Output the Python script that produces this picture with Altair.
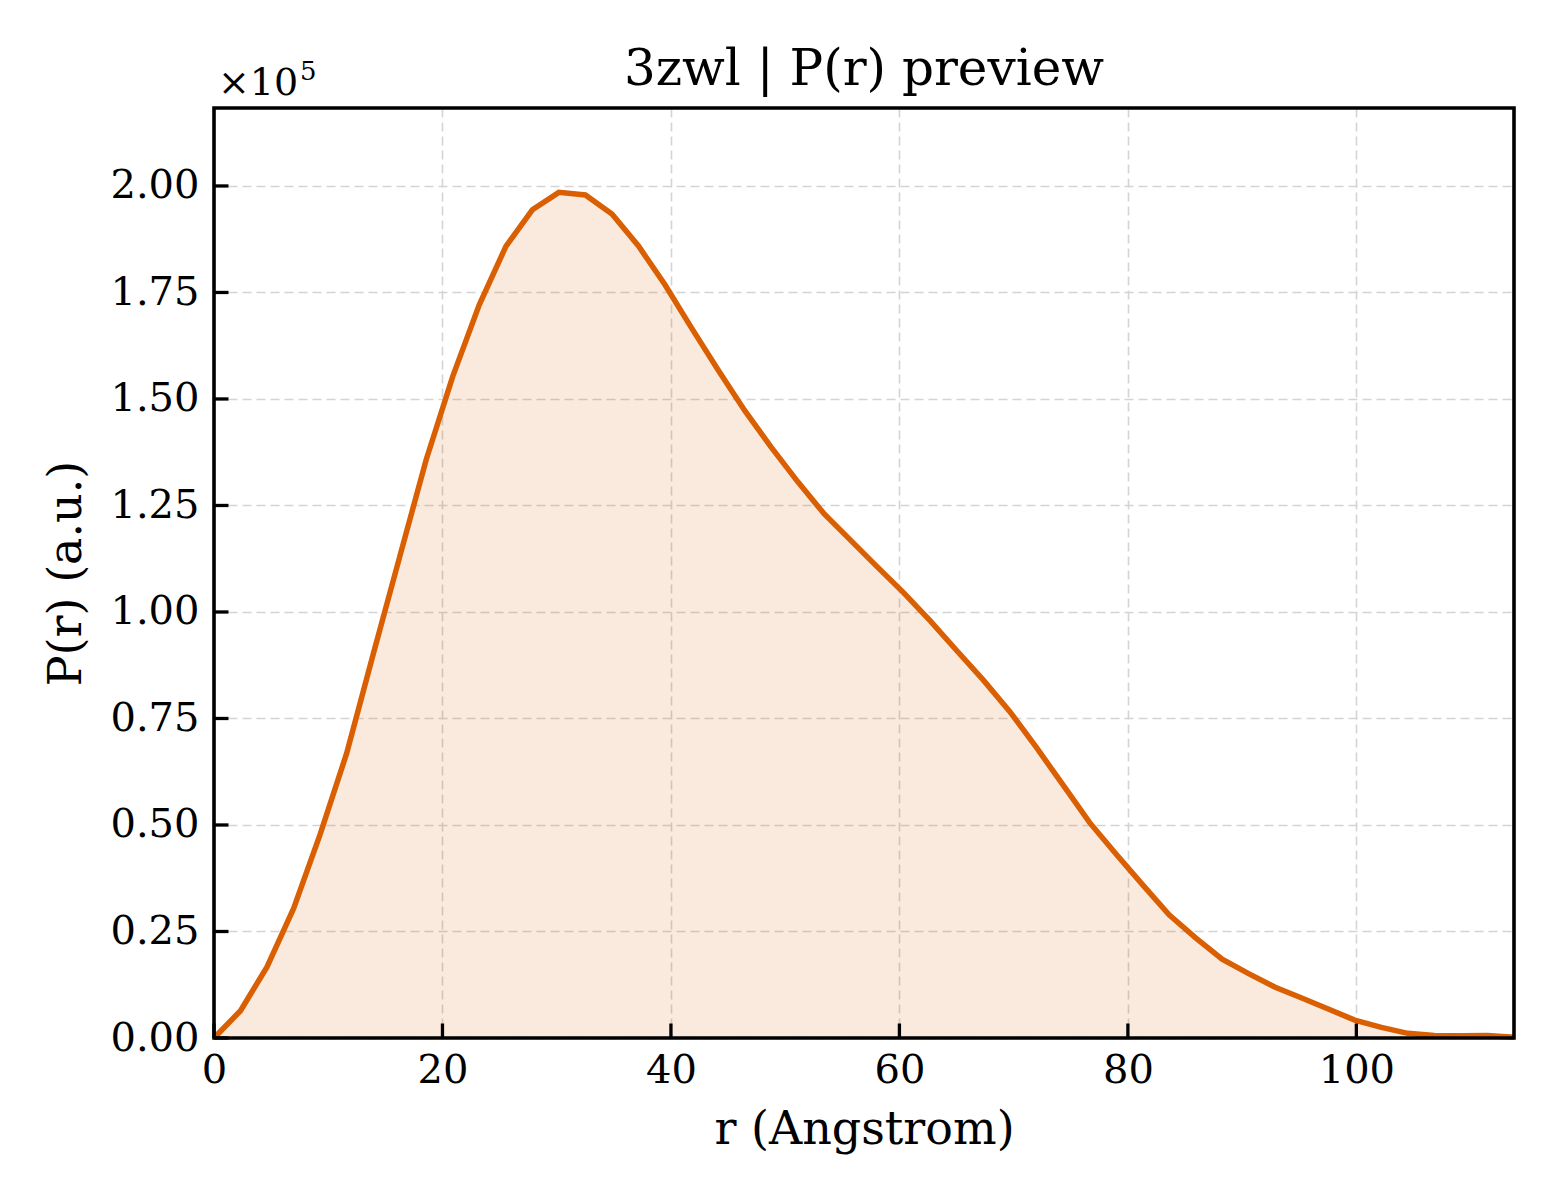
import altair as alt
import pandas as pd

# r values (Angstrom)
r_values = [0.00, 2.32, 4.64, 6.97, 9.29, 11.61, 13.93, 16.26, 18.58, 20.90,
            23.22, 25.55, 27.87, 30.19, 32.51, 34.84, 37.16, 39.48, 41.80, 44.13,
            46.45, 48.77, 51.09, 53.42, 55.74, 58.06, 60.38, 62.70, 65.03, 67.35,
            69.67, 71.99, 74.32, 76.64, 78.96, 81.28, 83.61, 85.93, 88.25, 90.57,
            92.90, 95.22, 97.54, 99.86, 102.19, 104.51, 106.83, 109.15, 111.48, 113.80]
# P(r) in units of 1e5
p_values = [0.000, 0.064, 0.167, 0.304, 0.478, 0.668, 0.900, 1.130, 1.358, 1.553,
            1.721, 1.858, 1.944, 1.985, 1.979, 1.934, 1.859, 1.768, 1.667, 1.568,
            1.473, 1.387, 1.306, 1.230, 1.168, 1.106, 1.045, 0.979, 0.909, 0.840,
            0.766, 0.682, 0.594, 0.506, 0.432, 0.360, 0.289, 0.235, 0.185, 0.151,
            0.119, 0.094, 0.068, 0.042, 0.025, 0.011, 0.006, 0.005, 0.006, 0.002]

x_ticks = [0, 20, 40, 60, 80, 100]
y_ticks = [0.0, 0.25, 0.5, 0.75, 1.0, 1.25, 1.5, 1.75, 2.0]

title_text = "3zwl | P(r) preview"
x_title = "r (Angstrom)"
y_title = "P(r) (a.u.)"
offset_text = "×10"
offset_exp = "5"

df = pd.DataFrame({"r": r_values, "p": p_values})
xt = pd.DataFrame({"xv": x_ticks})
yt = pd.DataFrame({"yv": y_ticks})

FONT = "DejaVu Serif"
COLOR = "#d95f02"
W, H = 1300, 930
TICK = 14.5
xdom = [0, 113.8]
ydom = [0, 2.183]

xscale = alt.Scale(domain=xdom, nice=False, zero=False)
yscale = alt.Scale(domain=ydom, nice=False)

area = alt.Chart(df).mark_area(color=COLOR, opacity=0.13).encode(
    x=alt.X("r:Q", scale=xscale, title=x_title,
            axis=alt.Axis(values=x_ticks, ticks=False, domain=False, labelPadding=12,
                          labelFontSize=40, labelFont=FONT, labelColor="black",
                          titleFont=FONT, titleFontSize=46, titleFontWeight="normal",
                          titleColor="black", titlePadding=17,
                          grid=True, gridColor="#d4d4d4", gridDash=[9, 5], gridWidth=1.6,
                          labelFlush=False)),
    y=alt.Y("p:Q", scale=yscale, title=y_title,
            axis=alt.Axis(values=y_ticks, format=".2f", ticks=False, domain=False,
                          labelPadding=15, labelFontSize=40, labelFont=FONT,
                          labelColor="black", titleFont=FONT, titleFontSize=46,
                          titleFontWeight="normal", titleColor="black", titlePadding=19,
                          grid=True, gridColor="#d4d4d4", gridDash=[9, 5], gridWidth=1.6,
                          labelFlush=False)),
)

line = alt.Chart(df).mark_line(color=COLOR, strokeWidth=5.5).encode(
    x=alt.X("r:Q", scale=xscale),
    y=alt.Y("p:Q", scale=yscale),
)

xtick_marks = alt.Chart(xt).mark_tick(
    color="black", orient="vertical", size=TICK, thickness=3.3, opacity=1
).encode(
    x=alt.X("xv:Q", scale=xscale),
    y=alt.value(H - TICK / 2),
)
ytick_marks = alt.Chart(yt).mark_tick(
    color="black", orient="horizontal", size=TICK, thickness=3.3, opacity=1
).encode(
    y=alt.Y("yv:Q", scale=yscale),
    x=alt.value(TICK / 2),
)

frame = alt.Chart(pd.DataFrame({"a": [0]})).mark_rect(
    fillOpacity=0, stroke="black", strokeWidth=3.6
).encode(x=alt.value(0), x2=alt.value(W), y=alt.value(0), y2=alt.value(H))

title = alt.Chart(pd.DataFrame({"t": [title_text]})).mark_text(
    font=FONT, fontSize=50, align="center", baseline="alphabetic", color="black"
).encode(x=alt.value(W / 2), y=alt.value(-23), text="t:N")

mult = alt.Chart(pd.DataFrame({"t": [offset_text]})).mark_text(
    font=FONT, fontSize=38, align="left", baseline="alphabetic", color="black"
).encode(x=alt.value(4), y=alt.value(-13), text="t:N")

expo = alt.Chart(pd.DataFrame({"t": [offset_exp]})).mark_text(
    font=FONT, fontSize=26, align="left", baseline="alphabetic", color="black"
).encode(x=alt.value(86), y=alt.value(-28), text="t:N")

chart = alt.layer(area, line, xtick_marks, ytick_marks, frame, title, mult, expo).properties(
    width=W, height=H,
    autosize=alt.AutoSizeParams(type="none"),
    padding={"left": 206, "top": 100, "right": 38, "bottom": 154},
    background="white",
).configure_view(stroke=None)

chart.save("out.html", embed_options={"renderer": "svg", "actions": False})
